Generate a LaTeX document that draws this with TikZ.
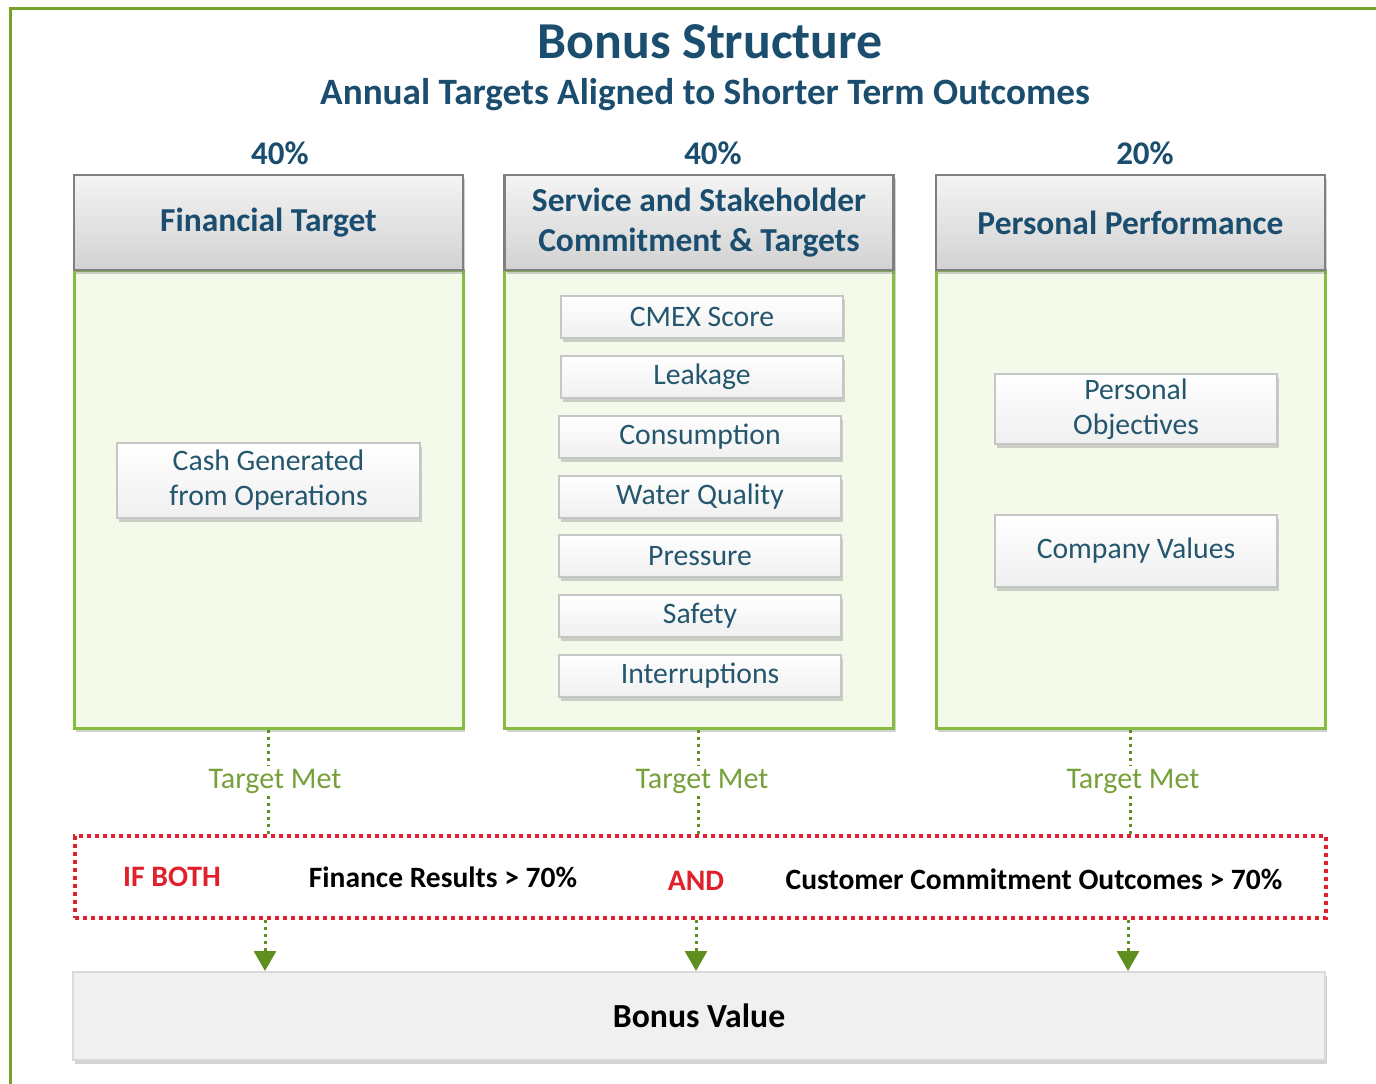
\documentclass[tikz,border=0pt]{standalone}
\usepackage{fontspec}
\setmainfont{Carlito}
\usetikzlibrary{shadows,arrows.meta}
\definecolor{titleblue}{HTML}{1A4D6E}
\definecolor{itemblue}{HTML}{24566E}
\definecolor{framegreen}{HTML}{76A22C}
\definecolor{bodygreen}{HTML}{86BC3F}
\definecolor{bodyfill}{HTML}{F3FAEA}
\definecolor{metgreen}{HTML}{76A03A}
\definecolor{arrowgreen}{HTML}{5F8F1E}
\definecolor{condred}{HTML}{E0202A}
\definecolor{hdrtop}{HTML}{F4F4F4}
\definecolor{hdrbot}{HTML}{D2D2D2}
\definecolor{hdrline}{HTML}{808080}
\begin{document}
\begin{tikzpicture}[x=1pt,y=-1pt,
  shad/.style={drop shadow={opacity=.35,shadow xshift=2pt,shadow yshift=-4pt}},
  hdr/.style={draw=hdrline,line width=2.5pt,top color=hdrtop,bottom color=hdrbot,
    minimum width=389pt,minimum height=95pt,inner sep=0pt,align=center,
    font=\fontsize{33.5}{40}\selectfont\bfseries,text=titleblue,shad},
  colbody/.style={draw=bodygreen,line width=3pt,fill=bodyfill,
    minimum width=389pt,minimum height=458pt,inner sep=0pt,shad},
  item/.style={draw=gray!45,line width=2pt,top color=white,bottom color=gray!12,
    minimum width=282pt,minimum height=42pt,inner sep=0pt,align=center,
    font=\fontsize{29.7}{35}\selectfont,text=itemblue,shad},
  pct/.style={font=\fontsize{33}{36}\selectfont\bfseries,text=titleblue},
  met/.style={font=\fontsize{30}{34}\selectfont,text=metgreen,inner sep=3pt},
  conn/.style={draw=arrowgreen,line width=3pt,dash pattern=on 3pt off 4pt},
  arr/.style={conn,-{Triangle[width=22pt,length=20pt]}},
  condtxt/.style={font=\fontsize{29.5}{32}\selectfont\bfseries,text=black},
  redtxt/.style={font=\fontsize{29.7}{32}\selectfont\bfseries,text=condred}]
\useasboundingbox (0,0) rectangle (1376,1084);
\fill[white] (0,0) rectangle (1376,1084);
\draw[framegreen,line width=3pt] (10,1084) -- (10,8) -- (1376,8);

\node[font=\fontsize{51.8}{58}\selectfont\bfseries,text=titleblue] (title) at (710,42) {Bonus Structure};
\node[font=\fontsize{37.2}{42}\selectfont\bfseries,text=titleblue] (subtitle) at (705,95) {Annual Targets Aligned to Shorter Term Outcomes};

\node[pct] (p1) at (280,153) {40\%};
\node[pct] (p2) at (713,153) {40\%};
\node[pct] (p3) at (1145,153) {20\%};

\node[colbody] (b1) at (268.5,499) {};
\node[colbody] (b2) at (699,499) {};
\node[colbody] (b3) at (1130.5,499) {};

\node[hdr] (h1) at (268.5,222.5) {Financial Target};
\node[hdr] (h2) at (699,222.5) {Service and Stakeholder\\Commitment \& Targets};
\node[hdr] (h3) at (1130.5,222.5) {Personal Performance};

\node[item,minimum width=303pt,minimum height=75pt] (cash) at (268.5,480) {Cash Generated\\from Operations};

\node[item] (i1) at (702,317) {CMEX Score};
\node[item] (i2) at (702,377) {Leakage};
\node[item] (i3) at (700,437) {Consumption};
\node[item] (i4) at (700,497) {Water Quality};
\node[item] (i5) at (700,556) {Pressure};
\node[item] (i6) at (700,616) {Safety};
\node[item] (i7) at (700,676) {Interruptions};

\node[item,minimum height=70pt] (po) at (1136,409) {Personal\\Objectives};
\node[item,minimum height=72pt] (cv) at (1136,551) {Company Values};

\node[met] (m1) at (275,781) {Target Met};
\node[met] (m2) at (702,781) {Target Met};
\node[met] (m3) at (1133,781) {Target Met};

\node[draw=condred,line width=4pt,dash pattern=on 4pt off 4pt,
  minimum width=1251pt,minimum height=82pt,inner sep=0pt] (cond) at (700.5,877) {};
\node[redtxt] (ifb) at (172,877) {IF BOTH};
\node[condtxt] (fin) at (443,877) {Finance Results > 70\%};
\node[redtxt] (and) at (696,881) {AND};
\node[condtxt] (cust) at (1034,879) {Customer Commitment Outcomes > 70\%};

\node[draw=gray!30,line width=2pt,fill=gray!12,minimum width=1252pt,minimum height=88pt,
  inner sep=0pt,font=\fontsize{33.7}{38}\selectfont\bfseries,shad] (bonus) at (699,1016) {Bonus Value};

\draw[conn] (b1.south -| 268,0) -- (m1.north -| 268,0);
\draw[conn] (m1.south -| 268,0) -- (cond.north -| 268,0);
\draw[arr] (cond.south -| 265,0) -- (bonus.north -| 265,0);
\draw[conn] (b2.south -| 698,0) -- (m2.north -| 698,0);
\draw[conn] (m2.south -| 698,0) -- (cond.north -| 698,0);
\draw[arr] (cond.south -| 696,0) -- (bonus.north -| 696,0);
\draw[conn] (b3.south -| 1130,0) -- (m3.north -| 1130,0);
\draw[conn] (m3.south -| 1130,0) -- (cond.north -| 1130,0);
\draw[arr] (cond.south -| 1128,0) -- (bonus.north -| 1128,0);
\end{tikzpicture}
\end{document}
